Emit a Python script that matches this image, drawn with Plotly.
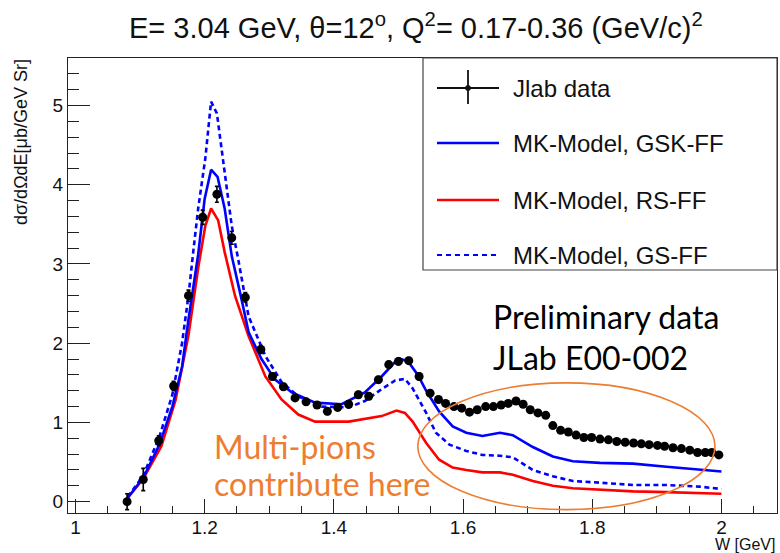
import plotly.graph_objects as go

# ---------------- data ----------------
data_w = [1.080, 1.105, 1.129, 1.152, 1.175, 1.197, 1.219, 1.242, 1.263, 1.287,
          1.305, 1.322, 1.340, 1.357, 1.374, 1.390, 1.406, 1.423, 1.438, 1.454,
          1.469, 1.485, 1.500, 1.516, 1.532, 1.549, 1.562, 1.573, 1.586, 1.598,
          1.610, 1.622, 1.635, 1.647, 1.659, 1.670, 1.682, 1.693, 1.704, 1.716,
          1.728, 1.739, 1.751, 1.763, 1.775, 1.787, 1.799, 1.812, 1.825, 1.838,
          1.851, 1.864, 1.876, 1.888, 1.901, 1.912, 1.925, 1.938, 1.951, 1.963,
          1.975, 1.985, 1.996]
data_y = [0.00, 0.28, 0.77, 1.46, 2.60, 3.59, 3.88, 3.33, 2.58, 1.92,
          1.58, 1.45, 1.31, 1.26, 1.22, 1.14, 1.19, 1.23, 1.35, 1.33,
          1.54, 1.73, 1.77, 1.78, 1.58, 1.37, 1.29, 1.24, 1.20, 1.18,
          1.13, 1.16, 1.20, 1.20, 1.22, 1.24, 1.27, 1.23, 1.16, 1.12,
          1.09, 0.96, 0.90, 0.88, 0.84, 0.81, 0.81, 0.79, 0.78, 0.76,
          0.75, 0.74, 0.73, 0.72, 0.71, 0.70, 0.68, 0.67, 0.65, 0.62,
          0.62, 0.62, 0.59]
data_err = [0.10, 0.14, 0.06, 0.06, 0.07, 0.09, 0.10, 0.08, 0.06, 0.05,
            0.04, 0.04, 0.04, 0.04, 0.04, 0.04, 0.04, 0.04, 0.04, 0.04,
            0.04, 0.04, 0.04, 0.04, 0.04, 0.04, 0.03, 0.03, 0.03, 0.03,
            0.03, 0.03, 0.03, 0.03, 0.03, 0.03, 0.03, 0.03, 0.03, 0.03,
            0.03, 0.03, 0.03, 0.03, 0.03, 0.03, 0.03, 0.03, 0.03, 0.03,
            0.03, 0.03, 0.03, 0.03, 0.03, 0.03, 0.03, 0.03, 0.03, 0.03,
            0.03, 0.03, 0.03]

gsk_w = [1.081, 1.105, 1.130, 1.150, 1.165, 1.175, 1.190, 1.200, 1.210, 1.220,
         1.231, 1.242, 1.257, 1.268, 1.288, 1.309, 1.335, 1.371, 1.412, 1.448,
         1.474, 1.500, 1.515, 1.530, 1.543, 1.563, 1.584, 1.605, 1.630, 1.657,
         1.677, 1.708, 1.739, 1.770, 1.812, 1.863, 1.915, 1.966, 2.000]
gsk_y = [0.05, 0.30, 0.72, 1.20, 1.70, 2.30, 3.12, 3.82, 4.19, 4.10,
         3.70, 3.10, 2.56, 2.14, 1.80, 1.54, 1.38, 1.25, 1.23, 1.38,
         1.58, 1.81, 1.77, 1.60, 1.40, 1.14, 0.95, 0.87, 0.83, 0.87,
         0.84, 0.69, 0.57, 0.51, 0.49, 0.48, 0.44, 0.40, 0.38]

rs_w = [1.081, 1.105, 1.133, 1.155, 1.175, 1.190, 1.201, 1.210, 1.221, 1.231,
        1.247, 1.268, 1.294, 1.319, 1.345, 1.371, 1.423, 1.474, 1.497, 1.510,
        1.522, 1.543, 1.563, 1.584, 1.605, 1.630, 1.657, 1.677, 1.708, 1.739,
        1.770, 1.812, 1.863, 1.915, 1.966, 2.000]
rs_y = [0.05, 0.29, 0.70, 1.28, 2.10, 2.95, 3.48, 3.70, 3.55, 3.15,
        2.60, 2.09, 1.58, 1.29, 1.10, 1.01, 1.01, 1.08, 1.15, 1.12,
        1.01, 0.74, 0.53, 0.43, 0.40, 0.37, 0.37, 0.34, 0.26, 0.20,
        0.17, 0.15, 0.13, 0.12, 0.11, 0.10]

gs_w = [1.081, 1.105, 1.130, 1.150, 1.165, 1.175, 1.183, 1.190, 1.201, 1.210,
        1.219, 1.227, 1.234, 1.242, 1.252, 1.268, 1.294, 1.319, 1.345, 1.381,
        1.423, 1.448, 1.474, 1.495, 1.510, 1.522, 1.543, 1.558, 1.579, 1.605,
        1.630, 1.657, 1.677, 1.708, 1.739, 1.770, 1.812, 1.863, 1.915, 1.966,
        2.000]
gs_y = [0.06, 0.33, 0.82, 1.35, 2.00, 2.60, 3.20, 3.70, 4.33, 5.05,
        4.90, 4.41, 3.91, 3.48, 3.06, 2.34, 1.84, 1.51, 1.33, 1.20,
        1.19, 1.27, 1.42, 1.53, 1.55, 1.43, 1.12, 0.87, 0.72, 0.64,
        0.59, 0.58, 0.56, 0.40, 0.32, 0.26, 0.24, 0.21, 0.21, 0.19,
        0.16]

x_ticks = [1.0, 1.2, 1.4, 1.6, 1.8, 2.0]
x_labels = ["1", "1.2", "1.4", "1.6", "1.8", "2"]
y_ticks = [0, 1, 2, 3, 4, 5]
y_labels = ["0", "1", "2", "3", "4", "5"]

legend_labels = ["Jlab data", "MK-Model, GSK-FF", "MK-Model, RS-FF", "MK-Model, GS-FF"]

# ---------------- layout helpers ----------------
W, H = 780, 553
L, R, T, B = 68, 777, 58, 513


def px(xp):
    return (xp - L) / (R - L)


def py(yp):
    return (B - yp) / (B - T)


BLUE = "#0000ff"
RED = "#ff0000"
ORANGE = "#ed7d31"

fig = go.Figure()

fig.add_trace(go.Scatter(x=gs_w, y=gs_y, mode="lines", name=legend_labels[3],
                         line=dict(color=BLUE, width=2.6, dash="5px,3.5px"),
                         showlegend=False))
fig.add_trace(go.Scatter(x=rs_w, y=rs_y, mode="lines", name=legend_labels[2],
                         line=dict(color=RED, width=2.6), showlegend=False))
fig.add_trace(go.Scatter(x=gsk_w, y=gsk_y, mode="lines", name=legend_labels[1],
                         line=dict(color=BLUE, width=2.6), showlegend=False))
fig.add_trace(go.Scatter(x=data_w, y=data_y, mode="markers", name=legend_labels[0],
                         marker=dict(color="black", size=9),
                         error_y=dict(type="data", array=data_err, color="black",
                                      thickness=1.6, width=2),
                         showlegend=False))

axis_font = dict(family="Liberation Sans, Arial, sans-serif", size=19, color="#111")

fig.update_xaxes(range=[0.9885, 2.086], tickvals=x_ticks, ticktext=x_labels,
                 ticks="inside", ticklen=14, tickwidth=1.2, tickcolor="#222",
                 ticklabelstandoff=-3,
                 minor=dict(dtick=0.05, tick0=1.0, ticks="inside", ticklen=7,
                            tickwidth=1.2, tickcolor="#222"),
                 showline=True, linecolor="#222", linewidth=1.3, mirror=True,
                 showgrid=False, zeroline=False, tickfont=axis_font)
fig.update_yaxes(range=[-0.143, 5.60], tickvals=y_ticks, ticktext=y_labels,
                 ticks="inside", ticklen=22, tickwidth=1.2, tickcolor="#222",
                 minor=dict(dtick=0.2, tick0=0, ticks="inside", ticklen=11,
                            tickwidth=1.2, tickcolor="#222"),
                 showline=True, linecolor="#222", linewidth=1.3, mirror=True,
                 showgrid=False, zeroline=False, tickfont=axis_font)

shapes = []
annotations = []

# orange ellipse marking the multi-pion region
shapes.append(dict(type="circle", xref="x", yref="y", x0=1.530, x1=1.990,
                   y0=-0.101, y1=1.499, line=dict(color=ORANGE, width=1.6),
                   layer="above"))

# legend box
shapes.append(dict(type="rect", xref="paper", yref="paper",
                   x0=px(423), x1=px(777), y0=py(270), y1=py(58),
                   line=dict(color="#444", width=1.2), fillcolor="white",
                   layer="above"))
ys = [88, 143, 200, 255]
sx0, sx1 = px(437), px(499)
# data symbol: cross with dot
shapes.append(dict(type="line", xref="paper", yref="paper", x0=sx0, x1=sx1,
                   y0=py(ys[0]), y1=py(ys[0]), line=dict(color="#111", width=1.8),
                   layer="above"))
shapes.append(dict(type="line", xref="paper", yref="paper", x0=px(468), x1=px(468),
                   y0=py(70), y1=py(104), line=dict(color="#111", width=1.8),
                   layer="above"))
shapes.append(dict(type="circle", xref="paper", yref="paper", x0=px(465.5), x1=px(470.5),
                   y0=py(ys[0] + 2.5), y1=py(ys[0] - 2.5), fillcolor="#111",
                   line=dict(color="#111", width=1), layer="above"))
shapes.append(dict(type="line", xref="paper", yref="paper", x0=sx0, x1=sx1,
                   y0=py(ys[1]), y1=py(ys[1]), line=dict(color=BLUE, width=2.6),
                   layer="above"))
shapes.append(dict(type="line", xref="paper", yref="paper", x0=sx0, x1=sx1,
                   y0=py(ys[2]), y1=py(ys[2]), line=dict(color=RED, width=2.6),
                   layer="above"))
shapes.append(dict(type="line", xref="paper", yref="paper", x0=sx0, x1=sx1,
                   y0=py(ys[3]), y1=py(ys[3]), line=dict(color=BLUE, width=2.2,
                                                        dash="5px,4px"),
                   layer="above"))
for lab, yy in zip(legend_labels, ys):
    annotations.append(dict(text=lab, xref="paper", yref="paper", x=px(511),
                            y=py(yy), xanchor="left", yanchor="middle", showarrow=False,
                            font=dict(family="Liberation Sans, Arial, sans-serif",
                                      size=24, color="#111")))

# title
annotations.append(dict(
    text="E= 3.04 GeV, θ=12<sup>o</sup>, Q<sup>2</sup>= 0.17-0.36 (GeV/c)<sup>2</sup>",
    xref="paper", yref="paper", x=px(416), y=py(26), xanchor="center",
    yanchor="middle", showarrow=False,
    font=dict(family="Liberation Sans, Arial, sans-serif", size=29, color="#111")))

# axis titles
annotations.append(dict(text="dσ/dΩdE[μb/GeV Sr]", xref="paper", yref="paper",
                        x=px(21), y=py(57), xanchor="center", yanchor="top",
                        textangle=-90, showarrow=False,
                        font=dict(family="Liberation Sans, Arial, sans-serif",
                                  size=18, color="#111")))
annotations.append(dict(text="W [GeV]", xref="paper", yref="paper",
                        x=px(777), y=py(544), xanchor="right", yanchor="middle",
                        showarrow=False,
                        font=dict(family="Liberation Sans, Arial, sans-serif",
                                  size=16, color="#111")))

# free text
cal = "Lato, Open Sans, sans-serif"
annotations.append(dict(text="Preliminary data", xref="paper", yref="paper",
                        x=px(491), y=py(316), xanchor="left", yanchor="middle",
                        showarrow=False, font=dict(family=cal, size=32, color="black")))
annotations.append(dict(text="JLab E00-002", xref="paper", yref="paper",
                        x=px(491), y=py(357), xanchor="left", yanchor="middle",
                        showarrow=False, font=dict(family=cal, size=32, color="black")))
annotations.append(dict(text="Multi-pions", xref="paper", yref="paper",
                        x=px(212), y=py(446), xanchor="left", yanchor="middle",
                        showarrow=False, font=dict(family=cal, size=32, color=ORANGE)))
annotations.append(dict(text="contribute here", xref="paper", yref="paper",
                        x=px(212), y=py(483), xanchor="left", yanchor="middle",
                        showarrow=False, font=dict(family=cal, size=32, color=ORANGE)))

fig.update_layout(width=W, height=H, margin=dict(l=L, r=W - R, t=T, b=H - B),
                  paper_bgcolor="white", plot_bgcolor="white",
                  shapes=shapes, annotations=annotations, showlegend=False)

fig.write_html("out.html")
